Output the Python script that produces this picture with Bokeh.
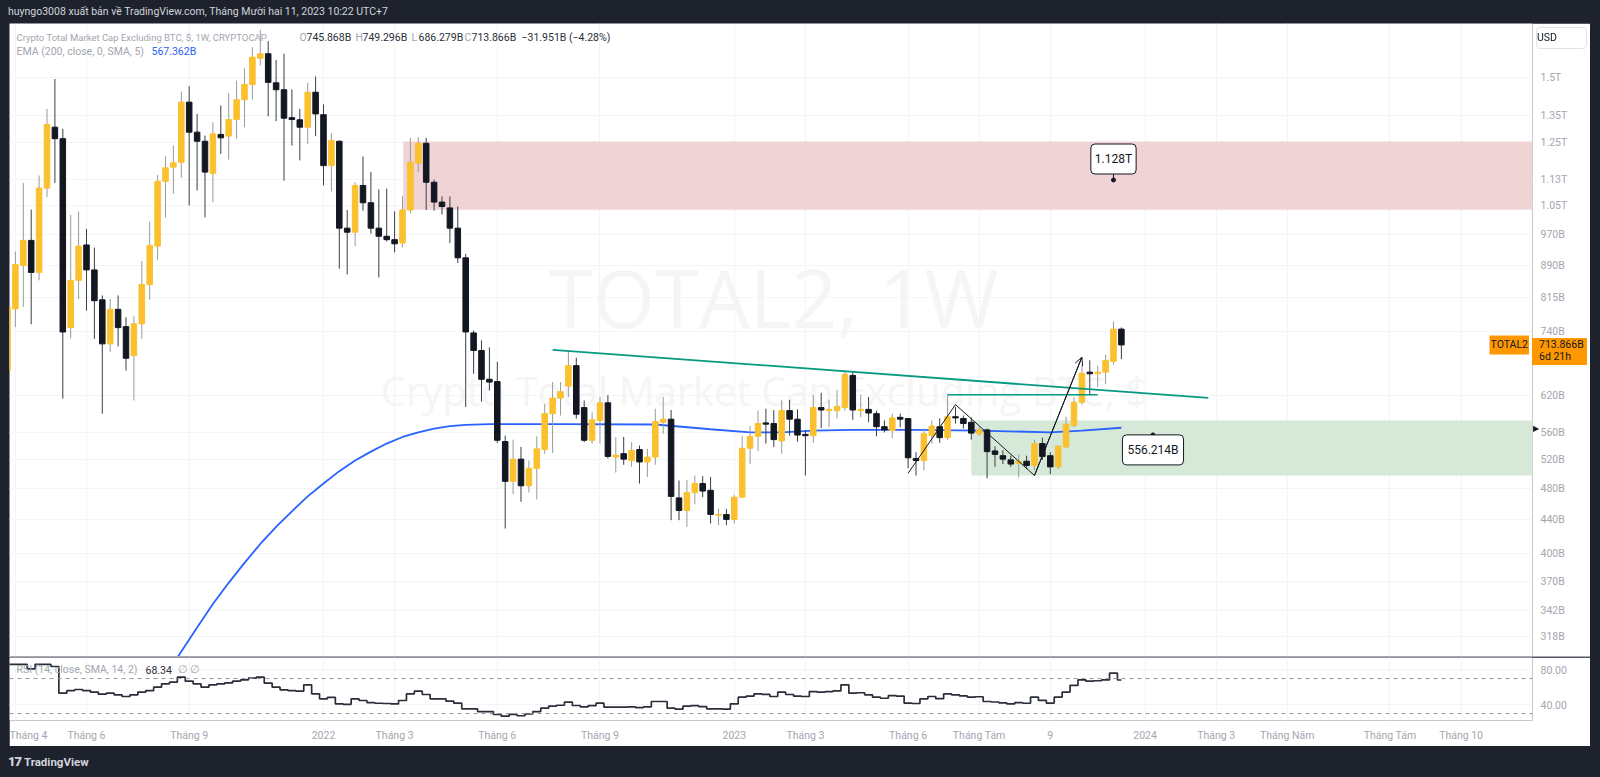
import math
from bokeh.plotting import figure
from bokeh.models import (Range1d, FixedTicker, Label, Grid, Div, Spacer, Arrow,
                          OpenHead, ColumnDataSource, Span)
from bokeh.layouts import column, row
from bokeh.embed import file_html
from bokeh.resources import INLINE

# ---------------- data (values in billions USD, weekly bars) ----------------
# bar index = weeks relative to the week of 3 Jan 2022
bar_index = list(range(-40, 102))

open_b = [665, 789, 890, 954, 873, 1103, 1306, 1265, 749, 854,
          942, 879, 809, 716, 788, 751, 693, 757, 844, 939,
          1124, 1169, 1185, 1400, 1288, 1256, 1149, 1280, 1274, 1334,
          1409, 1470, 1581, 1601, 1477, 1449, 1341, 1333, 1306, 1439,
          1352, 1174, 1256, 987, 976, 1111, 1059, 987, 965, 956,
          947, 1038, 1182, 1249, 1121, 1061, 1044, 987, 909, 738,
          703, 649, 645, 546, 489, 520, 483, 507, 534, 590,
          616, 637, 674, 600, 548, 579, 608, 523, 528, 518,
          534, 516, 523, 576, 581, 467, 451, 474, 486, 477,
          445, 446, 440, 468, 536, 554, 575, 574, 547, 595,
          581, 557, 555, 600, 595, 595, 600, 656, 595, 597,
          590, 569, 563, 584, 582, 521, 518, 555, 569, 552,
          585, 582, 576, 558, 564, 532, 525, 519, 514, 517,
          511, 543, 525, 509, 538, 571, 609, 662, 659, 662,
          682, 745.868]
high_b = [807, 925, 1119, 1039, 1142, 1374, 1493, 1300, 1024, 1034,
          985, 935, 819, 811, 819, 771, 773, 901, 1005, 1144,
          1205, 1241, 1442, 1463, 1355, 1276, 1324, 1387, 1435, 1486,
          1538, 1630, 1711, 1658, 1574, 1601, 1450, 1374, 1477, 1503,
          1391, 1284, 1259, 1038, 1121, 1204, 1153, 1099, 1101, 1034,
          1078, 1268, 1270, 1268, 1129, 1078, 1078, 1048, 919, 743,
          723, 709, 681, 555, 549, 538, 518, 554, 606, 644,
          644, 703, 689, 612, 592, 618, 621, 553, 553, 545,
          540, 535, 598, 618, 596, 490, 491, 497, 496, 495,
          453, 453, 471, 555, 570, 595, 598, 596, 613, 613,
          597, 563, 621, 625, 613, 630, 664, 664, 622, 618,
          595, 579, 590, 590, 583, 530, 566, 579, 582, 622,
          601, 587, 584, 569, 566, 539, 533, 525, 527, 525,
          549, 552, 530, 540, 585, 618, 674, 684, 674, 695,
          762, 749.296]
low_b = [656, 750, 793, 756, 854, 1075, 1119, 615, 727, 811,
         785, 726, 590, 700, 711, 665, 612, 726, 809, 904,
         1016, 1086, 1135, 1051, 1096, 1017, 1061, 1213, 1194, 1265,
         1306, 1410, 1550, 1346, 1328, 1126, 1241, 1191, 1247, 1274,
         1111, 1093, 882, 868, 939, 1036, 972, 861, 951, 923,
         936, 1029, 1153, 1038, 1036, 1025, 947, 896, 601, 659,
         610, 629, 544, 429, 472, 462, 474, 465, 528, 529,
         587, 618, 582, 545, 543, 543, 521, 501, 512, 509,
         486, 495, 512, 558, 439, 439, 431, 459, 468, 435,
         433, 433, 435, 467, 513, 532, 543, 538, 528, 555,
         546, 497, 544, 567, 568, 582, 595, 580, 584, 576,
         554, 560, 551, 568, 507, 497, 504, 543, 544, 548,
         574, 566, 549, 555, 493, 509, 513, 509, 494, 506,
         504, 519, 499, 506, 536, 568, 605, 622, 635, 640,
         676, 686.279]
close_b = [793, 892, 954, 873, 1103, 1316, 1265, 740, 854, 939,
           879, 807, 716, 788, 749, 688, 757, 844, 941, 1124,
           1167, 1183, 1400, 1288, 1256, 1153, 1282, 1268, 1334, 1409,
           1470, 1586, 1601, 1479, 1449, 1339, 1334, 1306, 1439, 1355,
           1174, 1259, 987, 976, 1111, 1059, 987, 965, 956, 945,
           1038, 1185, 1249, 1121, 1061, 1048, 987, 909, 740, 703,
           649, 644, 548, 489, 520, 483, 507, 535, 590, 616,
           627, 674, 589, 548, 580, 608, 524, 526, 520, 533,
           516, 523, 577, 581, 469, 451, 474, 486, 476, 446,
           446, 440, 468, 536, 554, 574, 573, 549, 595, 581,
           556, 555, 600, 596, 597, 602, 658, 596, 597, 591,
           569, 564, 583, 581, 522, 518, 558, 570, 552, 585,
           583, 574, 559, 564, 531, 527, 520, 513, 517, 511,
           543, 524, 509, 539, 573, 609, 660, 659, 662, 684,
           745.868, 713.866]

rsi_vals = [86.1, 86.1, 86.1, 81.1, 86.1, 86.1, 83.8, 53.3, 56.3, 57.5,
            56.3, 54.5, 52.2, 53.3, 51.4, 49.5, 51.4, 54.5, 56.3, 60.2,
            64.0, 65.9, 71.6, 67.0, 64.0, 60.2, 62.8, 64.0, 65.1, 67.0,
            68.5, 70.4, 71.6, 64.7, 60.2, 57.1, 56.3, 55.6, 62.8, 52.5,
            46.8, 48.5, 41.1, 40.5, 46.8, 44.9, 42.6, 41.8, 41.5, 41.0,
            44.9, 52.5, 55.6, 51.8, 46.8, 46.8, 44.2, 41.9, 35.4, 35.4,
            32.3, 32.3, 28.9, 27.0, 29.0, 27.5, 29.5, 32.3, 36.2, 38.5,
            39.5, 43.0, 39.2, 37.7, 39.0, 41.9, 37.3, 37.3, 37.3, 37.7,
            36.8, 37.7, 43.8, 43.8, 36.2, 35.0, 38.5, 39.0, 38.0, 35.4,
            35.4, 35.0, 41.1, 48.7, 50.0, 52.5, 52.0, 49.5, 54.5, 51.8,
            50.0, 49.5, 55.1, 54.5, 55.1, 56.0, 62.8, 53.3, 53.8, 51.4,
            48.7, 47.5, 50.5, 50.0, 41.9, 41.5, 46.8, 49.5, 47.0, 52.5,
            51.4, 50.2, 48.7, 49.2, 43.8, 43.2, 42.2, 41.0, 42.6, 41.8,
            48.7, 45.0, 42.0, 48.7, 54.5, 62.1, 68.5, 67.0, 67.5, 68.5,
            76.2, 68.34]

ema_index = [-19, -18, -16, -14, -12, -10, -8, -6, -4, -2, 0, 2, 4, 6, 8, 10, 12, 14,
             16, 18, 21, 30, 42, 49, 54, 58, 62, 67, 75, 83, 92, 96, 101]
ema_b = [295, 305, 326, 348, 369, 390, 411, 431, 450, 469, 486, 503, 518, 531, 543,
         553, 560, 566, 570, 572, 573, 573, 572.5, 565, 560, 560, 563, 564, 564, 563,
         560, 563, 567.362]

price_ticks = [318, 342, 370, 400, 440, 480, 520, 560, 620, 740, 815, 890, 970,
               1050, 1130, 1250, 1350, 1500]
price_labels = ["318B", "342B", "370B", "400B", "440B", "480B", "520B", "560B", "620B",
                "740B", "815B", "890B", "970B", "1.05T", "1.13T", "1.25T", "1.35T", "1.5T"]
time_ticks = [-39, -30, -17, 0, 9, 22, 35, 52, 61, 74, 83, 92, 104, 113, 122, 135, 144]
time_labels = ["Tháng 4", "Tháng 6", "Tháng 9", "2022", "Tháng 3", "Tháng 6", "Tháng 9",
               "2023", "Tháng 3", "Tháng 6", "Tháng Tám", "9", "2024", "Tháng 3",
               "Tháng Năm", "Tháng Tám", "Tháng 10"]
rsi_ticks = [40, 80]
rsi_labels = ["40.00", "80.00"]
rsi_bands = [70, 30]

supply_zone = {"left": 10.1, "right": 170, "top": 1255, "bottom": 1039}
demand_zone = {"left": 82, "right": 170, "top": 579, "bottom": 497}
trend_index = [29, 112]
trend_b = [704.3, 616.2]
neck_index = [79, 98]
neck_b = [621.7, 621.7]
path_index = [74, 80, 90, 96]
path_b = [500, 605, 497, 690]
note_index = [100, 105]
note_b = [1128, 556.214]
note_text = ["1.128T", "556.214B"]

last_close = close_b[-1]
ema_last = ema_b[-1]

# ---------------- style / geometry ----------------
BG = "#1e222d"
FONT = "Roboto"
AXIS_TXT = "#a3a6af"
UP = "#fbc02d"
DOWN = "#131722"
GRID = "#f3f4f6"
ORANGE = "#ff9800"
LEG = "#a3a6af"
DARK = "#2a2e39"
PX_PER_DECADE = 830.2          # vertical pixels per factor 10 on the price scale
MAIN_TOP = 23                  # page y of the top of the price pane
PLOT_RIGHT = 1532              # page x of the right edge of the plot area

X0, X1 = -39.747, 153.04
Y0, Y1 = 300.8, 1741.2
x_range = Range1d(X0, X1)


def page_y(value):
    """page y pixel of a price on the log scale of the main pane"""
    return MAIN_TOP + (math.log10(Y1) - math.log10(value)) * PX_PER_DECADE


# ---------------- main price pane ----------------
p = figure(width=1581, height=633, x_range=x_range, y_range=Range1d(Y0, Y1),
           y_axis_type="log", y_axis_location="right", x_axis_location=None,
           output_backend="svg", toolbar_location=None,
           min_border_left=0, min_border_right=58, min_border_top=0, min_border_bottom=0,
           background_fill_color="white", border_fill_color="white", outline_line_color=None)
p.xgrid.visible = False
p.add_layout(Grid(dimension=0, ticker=FixedTicker(ticks=time_ticks), grid_line_color=GRID))
p.ygrid.ticker = FixedTicker(ticks=price_ticks)
p.ygrid.grid_line_color = GRID
p.yaxis.ticker = FixedTicker(ticks=price_ticks)
p.yaxis.major_label_overrides = {t: s for t, s in zip(price_ticks, price_labels)}
p.yaxis.axis_line_color = None
p.yaxis.major_tick_line_color = None
p.yaxis.minor_tick_line_color = None
p.yaxis.major_tick_out = 0
p.yaxis.major_tick_in = 0
p.yaxis.major_label_standoff = 8
p.yaxis.major_label_text_color = AXIS_TXT
p.yaxis.major_label_text_font = FONT
p.yaxis.major_label_text_font_size = "10.5px"

# watermark (below everything)
p.add_layout(Label(x=764, y=360, x_units="screen", y_units="screen", text="TOTAL2, 1W",
                   text_align="center", text_baseline="middle", text_color="#f5f5f6",
                   text_font="Open Sans", text_font_size="80px", level="image"))
p.add_layout(Label(x=755, y=266, x_units="screen", y_units="screen",
                   text="Crypto Total Market Cap Excluding BTC, $",
                   text_align="center", text_baseline="middle", text_color="#f5f5f6",
                   text_font="Open Sans", text_font_size="40px", level="image"))

# zones
p.quad(left=[supply_zone["left"]], right=[supply_zone["right"]], top=[supply_zone["top"]],
       bottom=[supply_zone["bottom"]], fill_color="#efd3d5", line_color=None)
p.quad(left=[demand_zone["left"]], right=[demand_zone["right"]], top=[demand_zone["top"]],
       bottom=[demand_zone["bottom"]], fill_color="#d6e8d7", line_color=None)

# EMA
p.line(ema_index, ema_b, line_color="#2962ff", line_width=1.8)

# candles
up = [c >= o for o, c in zip(open_b, close_b)]
src = ColumnDataSource(dict(
    x=bar_index, h=high_b, l=low_b,
    top=[max(o, c) for o, c in zip(open_b, close_b)],
    bottom=[min(o, c) for o, c in zip(open_b, close_b)],
    fill=[UP if u else DOWN for u in up],
    wick=["#9a9a9a" if u else "#3a3d46" for u in up]))
p.segment(x0="x", y0="l", x1="x", y1="h", line_color="wick", line_width=1, source=src)
p.vbar(x="x", width=0.7, top="top", bottom="bottom", fill_color="fill", line_color="fill",
       line_width=1, source=src)

# drawings
p.line(trend_index, trend_b, line_color="#089981", line_width=1.8)
p.line(neck_index, neck_b, line_color="#089981", line_width=1.6)
p.line(path_index, path_b, line_color="#131722", line_width=1)
p.add_layout(Arrow(end=OpenHead(size=8, line_color="#131722", line_width=1),
                   x_start=path_index[-2], y_start=path_b[-2],
                   x_end=path_index[-1], y_end=path_b[-1],
                   line_color="#131722", line_width=1))

# callouts
p.scatter(note_index, note_b, size=4, color="#131722")
p.segment(x0=[note_index[0]], y0=[note_b[0]], x1=[note_index[0]],
          y1=[note_b[0] * 10 ** (9 / PX_PER_DECADE)], line_color="#131722", line_width=1)
p.add_layout(Label(x=note_index[0], y=note_b[0], text=note_text[0], y_offset=21,
                   text_align="center", text_baseline="middle", text_color="#131722",
                   text_font=FONT, text_font_size="12px",
                   background_fill_color="white", border_line_color="#131722",
                   border_line_width=1, border_radius=4, padding=(4, 8)))
p.add_layout(Label(x=note_index[1], y=note_b[1], text=note_text[1], y_offset=-15,
                   text_align="center", text_baseline="middle", text_color="#131722",
                   text_font=FONT, text_font_size="12px",
                   background_fill_color="white", border_line_color="#131722",
                   border_line_width=1, border_radius=4, padding=(5, 8)))

# legend texts
p.add_layout(Label(x=7, y=619, x_units="screen", y_units="screen",
                   text="Crypto Total Market Cap Excluding BTC, $, 1W, CRYPTOCAP",
                   text_baseline="middle", text_color=LEG, text_font=FONT,
                   text_font_size="9.5px"))
for xx, letter, val in [(290, "O", "745.868B"), (346, "H", "749.296B"),
                        (402, "L", "686.279B"), (455, "C", "713.866B")]:
    p.add_layout(Label(x=xx, y=619, x_units="screen", y_units="screen", text=letter,
                       text_baseline="middle", text_color=LEG, text_font=FONT,
                       text_font_size="10.5px"))
    p.add_layout(Label(x=xx + 7, y=619, x_units="screen", y_units="screen", text=val,
                       text_baseline="middle", text_color=DARK, text_font=FONT,
                       text_font_size="10.5px"))
p.add_layout(Label(x=512, y=619, x_units="screen", y_units="screen",
                   text="\u221231.951B (\u22124.28%)",
                   text_baseline="middle", text_color=DARK, text_font=FONT,
                   text_font_size="10.5px"))
p.add_layout(Label(x=7, y=605, x_units="screen", y_units="screen",
                   text="EMA (200, close, 0, SMA, 5)",
                   text_baseline="middle", text_color=LEG, text_font=FONT,
                   text_font_size="10.5px"))
p.add_layout(Label(x=142, y=605, x_units="screen", y_units="screen", text="567.362B",
                   text_baseline="middle", text_color="#2962ff", text_font=FONT,
                   text_font_size="10.5px"))

# series name tag at the right edge of the plot
p.add_layout(Label(x=1519.5, y=last_close, x_units="screen", text="TOTAL2",
                   text_align="right", text_baseline="middle", text_color="#131722",
                   text_font=FONT, text_font_size="10.5px",
                   background_fill_color=ORANGE, padding=(1, 3)))

# ---------------- RSI pane ----------------
q = figure(width=1581, height=89, x_range=x_range, y_range=Range1d(22.06, 94.06),
           y_axis_location="right", output_backend="svg", toolbar_location=None,
           min_border_left=0, min_border_right=58, min_border_top=0, min_border_bottom=26,
           background_fill_color="white", border_fill_color="white", outline_line_color=None)
q.xgrid.ticker = FixedTicker(ticks=time_ticks)
q.xgrid.grid_line_color = GRID
q.ygrid.ticker = FixedTicker(ticks=rsi_ticks)
q.ygrid.grid_line_color = GRID
q.yaxis.ticker = FixedTicker(ticks=rsi_ticks)
q.yaxis.major_label_overrides = {t: s for t, s in zip(rsi_ticks, rsi_labels)}
q.xaxis.ticker = FixedTicker(ticks=time_ticks)
q.xaxis.major_label_overrides = {t: s for t, s in zip(time_ticks, time_labels)}
for ax in (q.xaxis, q.yaxis):
    ax.axis_line_color = None
    ax.major_tick_line_color = None
    ax.minor_tick_line_color = None
    ax.major_tick_out = 0
    ax.major_tick_in = 0
    ax.major_label_text_color = AXIS_TXT
    ax.major_label_text_font = FONT
    ax.major_label_text_font_size = "10.5px"
q.yaxis.major_label_standoff = 8
q.xaxis.major_label_standoff = 8

for lvl in rsi_bands:
    q.add_layout(Span(location=lvl, dimension="width", line_color="#9598a1",
                      line_dash="4 4", line_width=1))
q.step(bar_index, rsi_vals, mode="center", line_color="#2a2e39", line_width=1.7)

q.add_layout(Label(x=7, y=51, x_units="screen", y_units="screen",
                   text="RSI (14, close, SMA, 14, 2)", text_baseline="middle",
                   text_color=LEG, text_font=FONT, text_font_size="10.5px"))
q.add_layout(Label(x=136, y=51, x_units="screen", y_units="screen", text="68.34",
                   text_baseline="middle", text_color=DARK, text_font=FONT,
                   text_font_size="10.5px"))
q.add_layout(Label(x=168, y=51, x_units="screen", y_units="screen", text="\u2205  \u2205",
                   text_baseline="middle", text_color=LEG, text_font=FONT,
                   text_font_size="10.5px"))

# ---------------- price-scale overlays (HTML, fixed on the page) ----------------
price_top = page_y(last_close) - 7
price_tag = Div(text='<div style="padding:1px 0 0 7px;line-height:12.5px;white-space:nowrap;">'
                     '%.3fB<br>6d 21h</div>' % last_close,
                width=55, height=27, margin=0,
                styles={"position": "fixed", "left": "%dpx" % PLOT_RIGHT,
                        "top": "%.1fpx" % price_top, "background-color": ORANGE,
                        "color": "#131722", "font-family": FONT, "font-size": "10.5px",
                        "z-index": "10"})
usd_tag = Div(text='<div style="text-align:center;line-height:20px;">USD</div>',
              width=51, height=22, margin=0,
              styles={"position": "fixed", "left": "1536px", "top": "27px",
                      "background-color": "white", "border": "1px solid #e0e3eb",
                      "border-radius": "4px", "box-sizing": "border-box",
                      "color": "#131722", "font-family": FONT, "font-size": "10.5px",
                      "z-index": "10"})
ema_mark = Div(text='<div style="line-height:9px;">&#9654;</div>', width=9, height=9,
               margin=0,
               styles={"position": "fixed", "left": "%dpx" % (PLOT_RIGHT + 1),
                       "top": "%.1fpx" % (page_y(ema_last) - 4.5),
                       "color": "#131722", "font-family": "DejaVu Sans", "font-size": "8px",
                       "z-index": "10"})

# ---------------- page layout ----------------
header = Div(text='<div style="padding-left:8px;line-height:23px;white-space:nowrap;">'
                  'huyngo3008 xuất bản về TradingView.com, Tháng Mười hai 11, 2023 10:22 UTC+7'
                  '</div>',
             width=1600, height=23, margin=0,
             styles={"color": "#d1d4dc", "font-size": "10.5px", "font-family": FONT})
footer = Div(text='<div style="padding-left:8px;line-height:31px;white-space:nowrap;">'
                  '<span style="font-weight:900;font-size:13px;letter-spacing:-1px;">17</span>'
                  '&nbsp;<span style="font-weight:bold;">TradingView</span></div>',
             width=1600, height=31, margin=0,
             styles={"color": "#d1d4dc", "font-size": "11.5px", "font-family": FONT})
sep = Div(text="", width=1581, height=1, margin=0, styles={"background-color": "#a6a9b2"})
panel = column(p, sep, q, spacing=0)
middle = row(Spacer(width=9, height=723), panel, Spacer(width=10, height=723), spacing=0)
root = column(header, middle, footer, price_tag, usd_tag, ema_mark, spacing=0,
              styles={"background-color": BG})

open("out.html", "w").write(file_html(root, INLINE))
